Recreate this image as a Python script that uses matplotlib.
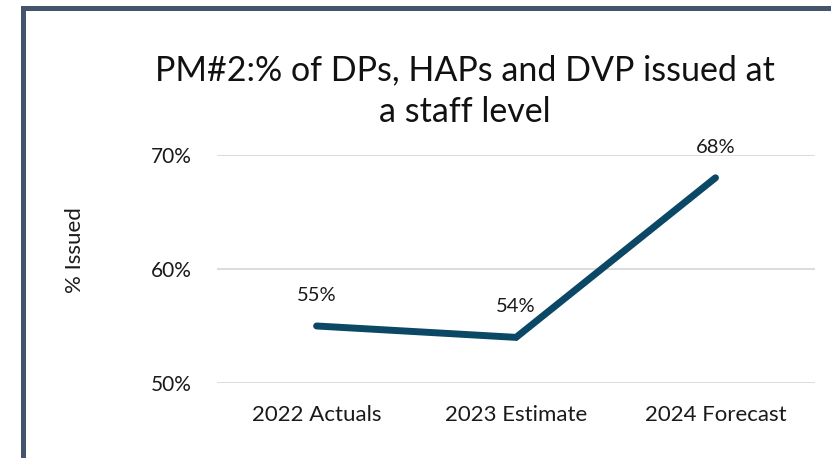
import matplotlib.pyplot as plt
from matplotlib.patches import Rectangle

categories = ["2022 Actuals", "2023 Estimate", "2024 Forecast"]
pct_issued = [55, 54, 68]
y_ticks = [50, 60, 70]

plt.rcParams['font.family'] = ['Lato', 'DejaVu Sans']

fig = plt.figure(figsize=(8.31, 4.58), dpi=100)
ax = fig.add_axes([0.261, 0.1638, 0.72, 0.4978])

x = list(range(len(categories)))
ax.plot(x, pct_issued, color="#0B4866", linewidth=5, solid_capstyle="round",
        solid_joinstyle="miter", zorder=3)
for xi, v in zip(x, pct_issued):
    ax.annotate(f"{v}%", (xi, v), xytext=(0, 22), textcoords="offset points",
                ha="center", va="center", fontsize=14.5, color="#1a1a1a")

ax.set_xlim(-0.5, len(categories) - 0.5)
ax.set_ylim(50, 70)
ax.set_yticks(y_ticks)
ax.set_yticklabels([f"{t}%" for t in y_ticks])
ax.set_xticks(x)
ax.set_xticklabels(categories)
ax.tick_params(axis="both", length=0, labelcolor="#1a1a1a")
ax.tick_params(axis="y", pad=18, labelsize=15)
ax.tick_params(axis="x", pad=16, labelsize=16)
ax.grid(axis="y", color="#d9d9d9", linewidth=1.3)
ax.set_axisbelow(True)
for s in ax.spines.values():
    s.set_visible(False)

fig.text(75 / 831, 1 - 250 / 458, "% Issued", rotation=90, ha="center",
         va="center", fontsize=16, color="#1a1a1a")

fig.text(465 / 831, 1 - 91 / 458,
         "PM#2:% of DPs, HAPs and DVP issued at\na staff level",
         ha="center", va="center", fontsize=24.5, color="#111111", linespacing=1.4)

fig.patches.append(Rectangle((22.5 / 831, -0.2), 1.2, 1 - 7.5 / 458 + 0.2,
                             transform=fig.transFigure, fill=False,
                             edgecolor="#44546A", linewidth=3.6))

fig.savefig("out.png", dpi=100)
